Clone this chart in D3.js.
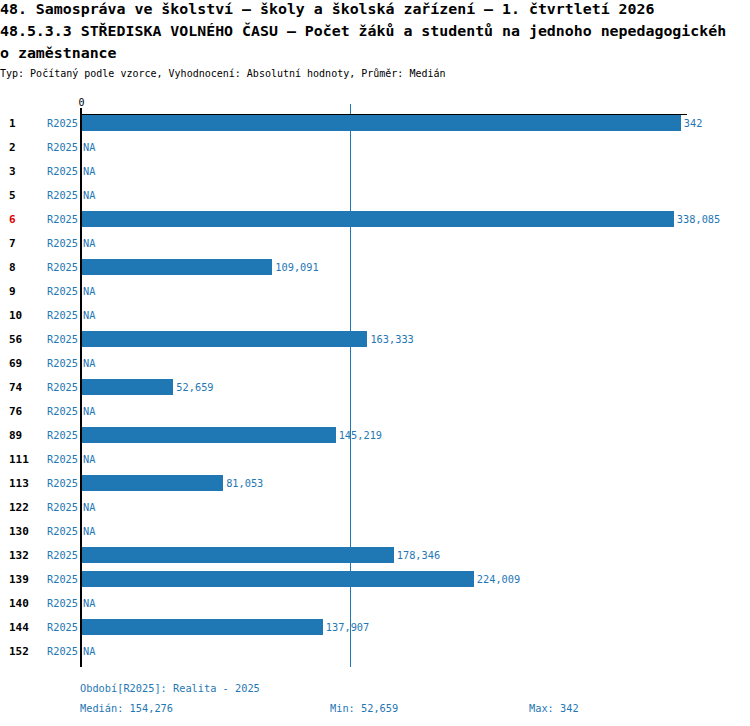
<!DOCTYPE html>
<html>
<head>
<meta charset="utf-8">
<script src="https://cdn.jsdelivr.net/npm/d3@7"></script>
<style>
  body { margin: 0; background: #fff; }
  svg text { font-family: "DejaVu Sans Mono", "Liberation Mono", monospace; }
</style>
</head>
<body>
<svg id="chart" width="750" height="726"></svg>
<script>
// data
const titleLines = [
  "48. Samospráva ve školství – školy a školská zařízení – 1. čtvrtletí 2026",
  "48.5.3.3 STŘEDISKA VOLNÉHO ČASU – Počet žáků a studentů na jednoho nepedagogickéh",
  "o zaměstnance"
];
const subtitle = "Typ: Počítaný podle vzorce, Vyhodnocení: Absolutní hodnoty, Průměr: Medián";
const categories = ["1","2","3","5","6","7","8","9","10","56","69","74","76","89","111","113","122","130","132","139","140","144","152"];
const values = [342, null, null, null, 338.085, null, 109.091, null, null, 163.333, null, 52.659, null, 145.219, null, 81.053, null, null, 178.346, 224.009, null, 137.907, null];
const period = "R2025";
const highlighted = ["6"];
const median = 154.276;
const minVal = 52.659;
const maxVal = 342;
const xTicks = [0];

const blue = "#1f77b4";
const fmt = v => String(+v.toFixed(3)).replace(".", ",");

const svg = d3.select("#chart");

// titles
svg.selectAll(".title").data(titleLines).enter().append("text")
  .attr("x", 0).attr("y", (d, i) => 14 + i * 22)
  .attr("font-size", 14.9).attr("font-weight", "bold").attr("fill", "#000")
  .text(d => d);
svg.append("text").attr("x", 0).attr("y", 77).attr("font-size", 10)
  .attr("fill", "#000").text(subtitle);

const x = d3.scaleLinear().domain([0, 345]).range([81, 686]);
const y = d3.scaleBand().domain(categories).range([111, 663])
  .paddingInner(1 / 3).paddingOuter(1 / 6);

const rows = categories.map((c, i) => ({ cat: c, val: values[i] }));

// median line
const mx = Math.round(x(median)) - 1.5;
svg.append("line")
  .attr("x1", mx).attr("x2", mx)
  .attr("y1", 104).attr("y2", 667)
  .attr("stroke", blue).attr("stroke-width", 1)
  .attr("shape-rendering", "crispEdges");

// bars
svg.selectAll(".bar").data(rows.filter(d => d.val != null)).enter().append("rect")
  .attr("class", "bar")
  .attr("x", x(0)).attr("y", d => y(d.cat))
  .attr("width", d => x(d.val) - x(0)).attr("height", y.bandwidth())
  .attr("fill", blue).attr("shape-rendering", "crispEdges");

// value labels
svg.selectAll(".val").data(rows).enter().append("text")
  .attr("x", d => d.val == null ? x(0) + 2 : x(d.val) + 3)
  .attr("y", d => y(d.cat) + y.bandwidth() / 2 + 4)
  .attr("font-size", 10.3).attr("fill", blue)
  .text(d => d.val == null ? "NA" : fmt(d.val));

// period labels
svg.selectAll(".per").data(rows).enter().append("text")
  .attr("x", 78).attr("y", d => y(d.cat) + y.bandwidth() / 2 + 4)
  .attr("text-anchor", "end").attr("font-size", 10.3).attr("fill", blue)
  .text(period);

// category labels
svg.selectAll(".cat").data(rows).enter().append("text")
  .attr("x", 9).attr("y", d => y(d.cat) + y.bandwidth() / 2 + 4)
  .attr("font-size", 11).attr("font-weight", "bold")
  .attr("fill", d => highlighted.includes(d.cat) ? "#e00000" : "#000")
  .text(d => d.cat);

// top axis
const axis = svg.append("g").attr("transform", "translate(0,114)")
  .call(d3.axisTop(x).tickValues(xTicks).tickSize(6).tickSizeOuter(0).tickFormat(d3.format("d")));
axis.select(".domain").attr("stroke", "#000").attr("shape-rendering", "crispEdges");
axis.selectAll("text").attr("font-size", 10).attr("fill", "#000")
  .attr("font-family", "DejaVu Sans Mono").attr("dy", "0.1em");

// vertical axis line
svg.append("line").attr("x1", 80.5).attr("x2", 80.5)
  .attr("y1", 108).attr("y2", 667).attr("stroke", "#000").attr("stroke-width", 2)
  .attr("shape-rendering", "crispEdges");

// footer
const foot = [
  { x: 80, y: 692, t: "Období[" + period + "]: Realita - 2025" },
  { x: 80, y: 712, t: "Medián: " + fmt(median) },
  { x: 330, y: 712, t: "Min: " + fmt(minVal) },
  { x: 529, y: 712, t: "Max: " + fmt(maxVal) }
];
svg.selectAll(".foot").data(foot).enter().append("text")
  .attr("x", d => d.x).attr("y", d => d.y)
  .attr("font-size", 10.3).attr("fill", blue).text(d => d.t);
</script>
</body>
</html>
